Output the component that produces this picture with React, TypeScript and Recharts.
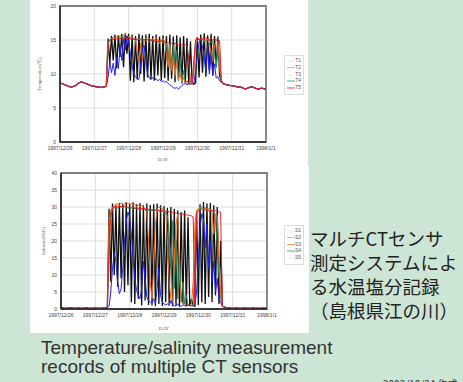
import React from 'react';
import { LineChart, Line, XAxis, YAxis, CartesianGrid, ReferenceArea } from 'recharts';

// x axis: sample index, 20 samples per day
const dayTicks = [0, 20, 40, 60, 80, 100, 120];
const dayLabels = ['1997/12/26', '1997/12/27', '1997/12/28', '1997/12/29', '1997/12/30', '1997/12/31', '1998/1/1'];
const tempTicks = [0, 5, 10, 15, 20];
const salTicks = [0, 5, 10, 15, 20, 25, 30, 35, 40];

const tempNames = ['T1', 'T2', 'T3', 'T4', 'T5'];
const salNames = ['S1', 'S2', 'S3', 'S4', 'S5'];
const colors = ['#111111', '#2222ee', '#f2691e', '#2a8a5c', '#e82020'];
const drawOrder = [0, 3, 2, 1, 4];

// temperature (deg C)
const tempStart = [8.7, 8.6, 8.5, 8.4, 8.3, 8.2, 8.1, 8.1, 8.2, 8.3, 8.5, 8.7, 8.8, 8.8, 8.7, 8.6, 8.5, 8.4, 8.3, 8.2, 8.2, 8.1, 8.1, 8.1, 8.0, 8.1, 8.1, 8.2];
const tempEnd = [8.6, 8.5, 8.4, 8.4, 8.3, 8.3, 8.2, 8.2, 8.1, 8.1, 8.1, 8.0, 7.9, 7.8, 7.9, 8.0, 8.1, 8.1, 8.0, 7.9, 7.8, 7.8, 7.9, 7.9, 7.8, 7.8];
const t1Mid = [
  15.2, 11.5, 15.6, 12.0, 15.8, 10.8, 15.7, 12.5, 15.9, 11.0, 16.0, 13.0,
  15.9, 9.0, 15.8, 8.8, 15.6, 9.2, 15.9, 10.0, 15.7, 8.9, 15.8, 9.5, 15.9,
  9.2, 15.6, 9.0, 15.8, 9.8, 15.5, 9.1, 15.7,
  9.4, 15.6, 9.0, 15.8, 9.3, 15.5, 8.8, 15.7, 9.2, 15.4, 8.6, 15.6, 8.7, 15.3, 8.5,
  14.8, 8.6, 8.5, 8.7, 15.4,
  9.5, 15.8, 10.2, 16.0, 9.6, 15.7, 10.5, 15.9, 9.8, 15.6, 11.0, 15.5, 9.7, 9.0,
];
const t2Mid = [
  9.5, 11.8, 10.2, 11.6, 9.8, 12.5, 10.8, 14.0, 12.0, 15.2, 13.5, 15.6,
  14.8, 13.0, 11.2, 10.0, 9.6, 9.3, 9.2, 11.5, 13.8, 14.2, 12.0, 10.0, 9.4,
  9.2, 9.5, 9.1, 9.3, 9.0, 9.2, 8.9, 9.0,
  8.8, 8.9, 8.6, 8.4, 8.2, 8.0, 7.9, 8.0, 7.8, 8.0, 8.3, 8.5, 8.6, 8.4, 8.6,
  8.5, 8.7, 8.6, 10.5, 13.0,
  14.6, 15.2, 14.0, 12.5, 10.2, 14.2, 10.0, 12.8, 9.8, 11.5, 9.4, 9.6, 9.0, 8.8,
];
const t3Mid = [
  14.5, 15.0, 15.2, 15.0, 15.4, 15.5, 15.6, 15.3, 15.5, 15.7, 15.8, 15.6,
  15.5, 15.4, 15.3, 15.2, 15.0, 13.0, 11.8, 14.5, 12.0, 15.0, 15.3, 15.4, 15.2,
  15.0, 15.2, 14.8, 15.3, 15.1, 14.5, 15.0, 15.2,
  14.8, 13.0, 11.0, 14.2, 10.5, 12.5, 9.8, 11.8, 9.2, 10.0, 8.8, 9.5, 8.6, 8.7, 8.5,
  8.6, 8.5, 10.0, 14.5, 15.0,
  15.2, 15.0, 15.3, 14.8, 15.0, 15.1, 14.6, 13.0, 11.8, 14.2, 15.0, 14.8, 12.0, 9.0,
];
const t4Mid = [
  14.8, 15.0, 15.2, 15.4, 15.3, 15.5, 15.4, 15.6, 15.5, 15.4, 15.5, 15.3,
  15.4, 15.2, 15.3, 15.1, 15.2, 15.0, 15.1, 15.2, 15.0, 15.1, 14.9, 15.0, 14.8,
  14.9, 15.0, 14.8, 14.9, 14.7, 14.9, 14.8, 14.6,
  14.8, 14.5, 12.0, 14.6, 10.5, 14.2, 9.5, 13.5, 9.0, 12.0, 8.8, 10.5, 8.7, 9.0, 8.6,
  8.5, 8.7, 12.0, 15.0, 15.2,
  15.0, 15.1, 14.9, 15.0, 14.8, 14.9, 15.0, 14.6, 14.8, 13.0, 11.0, 14.5, 10.5, 9.0,
];
const t5Mid = [
  14.6, 15.0, 15.2, 15.1, 15.3, 15.2, 15.3, 15.2, 15.3, 15.4, 15.3, 15.2,
  15.3, 15.2, 15.2, 15.1, 15.2, 15.1, 15.1, 15.0, 15.1, 15.0, 15.0, 15.1, 15.0,
  15.0, 14.9, 15.0, 14.9, 14.8, 14.9, 14.8, 14.8,
  14.7, 14.7, 14.6, 14.5, 14.5, 14.4, 14.5, 14.4, 14.3, 14.4, 14.3, 14.2, 14.3, 14.2, 12.0,
  8.8, 8.6, 11.5, 15.0, 15.4,
  15.0, 15.2, 15.1, 15.2, 15.3, 15.2, 15.1, 15.2, 15.0, 15.1, 15.0, 15.1, 14.9, 9.0,
];

// salinity (PSU)
const salStart = [0.3, 0.3, 0.2, 0.2, 0.2, 0.3, 0.3, 0.2, 0.2, 0.2, 0.3, 0.2, 0.2, 0.2, 0.3, 0.3, 0.2, 0.2, 0.2, 0.2, 0.3, 0.2, 0.2, 0.2, 0.2, 0.3, 0.3, 0.5];
const salEnd = [0.6, 0.4, 0.3, 0.3, 0.2, 0.2, 0.2, 0.3, 0.2, 0.2, 0.2, 0.2, 0.3, 0.2, 0.2, 0.2, 0.2, 0.3, 0.2, 0.2, 0.2, 0.2, 0.2, 0.3, 0.2, 0.2];
const s1Mid = [
  29.5, 8.0, 31.0, 10.0, 30.5, 6.5, 31.2, 9.0, 30.8, 5.0, 31.5, 7.0,
  31.0, 2.0, 31.4, 1.5, 30.8, 3.0, 31.2, 1.0, 30.5, 2.5, 31.0, 1.2, 30.6,
  1.0, 30.8, 0.8, 31.0, 1.5, 30.5, 0.9, 30.2,
  2.0, 29.8, 1.2, 30.0, 0.8, 29.5, 1.0, 29.0, 0.7, 28.5, 1.5, 29.0, 0.8, 27.0, 1.0,
  3.0, 1.0, 0.8, 28.5, 1.2,
  30.8, 2.0, 31.5, 1.5, 31.0, 3.5, 31.2, 2.0, 30.5, 4.0, 30.0, 1.5, 20.0, 0.8,
];
const s2Mid = [
  0.8, 5.0, 12.0, 16.5, 14.0, 8.0, 4.5, 6.0, 12.0, 20.0, 26.0, 28.5,
  27.0, 22.0, 15.0, 9.0, 5.5, 4.0, 3.0, 6.0, 14.0, 9.0, 3.5, 2.5, 2.0,
  1.8, 3.0, 1.5, 6.0, 12.0, 4.0, 2.0, 1.5,
  1.2, 1.5, 1.0, 2.5, 1.2, 1.0, 0.9, 1.5, 1.0, 0.8, 1.2, 1.0, 0.9, 1.1, 1.0,
  0.9, 1.0, 1.2, 5.0, 15.0,
  24.0, 28.0, 26.5, 18.0, 25.0, 12.0, 20.0, 8.0, 14.0, 5.0, 9.0, 3.0, 2.0, 1.0,
];
const s3Mid = [
  26.0, 29.0, 30.0, 30.5, 30.8, 31.0, 30.6, 31.2, 31.0, 30.8, 31.3, 31.0,
  30.8, 31.0, 30.5, 30.7, 30.2, 30.5, 30.0, 30.4, 30.0, 29.5, 28.0, 20.0, 8.0,
  3.0, 12.0, 25.0, 29.5, 30.0, 29.8, 29.5, 29.0,
  28.5, 20.0, 8.0, 3.0, 2.0, 15.0, 25.0, 28.0, 10.0, 2.5, 1.5, 1.2, 1.0, 1.2, 1.0,
  1.5, 8.0, 25.0, 29.0, 29.5,
  29.8, 30.0, 29.5, 29.8, 29.5, 29.0, 29.2, 28.5, 22.0, 28.0, 27.5, 15.0, 5.0, 0.8,
];
const s4Mid = [
  24.0, 28.5, 29.5, 29.8, 30.0, 29.6, 30.2, 30.0, 29.8, 30.1, 30.0, 29.7,
  29.8, 29.6, 29.9, 29.5, 29.7, 29.4, 29.6, 29.3, 29.5, 29.2, 29.4, 29.0, 29.2,
  29.0, 28.8, 29.1, 28.7, 29.0, 28.5, 28.8, 28.4,
  28.6, 27.5, 22.0, 12.0, 26.0, 6.0, 20.0, 3.0, 14.0, 2.0, 8.0, 1.5, 4.0, 1.2, 1.0,
  1.0, 1.5, 15.0, 28.5, 29.0,
  29.5, 29.8, 29.4, 29.6, 29.3, 29.5, 29.2, 29.0, 28.5, 26.0, 18.0, 10.0, 3.0, 0.8,
];
const s5Mid = [
  18.0, 27.0, 29.5, 30.0, 30.2, 30.0, 30.3, 30.1, 30.0, 30.2, 30.0, 29.9,
  30.0, 29.8, 29.9, 29.7, 29.8, 29.6, 29.7, 29.5, 29.6, 29.4, 29.5, 29.3, 29.4,
  29.2, 29.3, 29.1, 29.2, 29.0, 28.9, 29.0, 28.8,
  28.8, 28.7, 28.6, 28.5, 28.4, 28.3, 28.2, 28.1, 28.0, 28.0, 27.9, 27.8, 27.7, 27.6, 27.5,
  27.4, 27.0, 1.0, 28.0, 29.0,
  29.2, 29.4, 29.3, 29.2, 29.1, 29.0, 29.1, 28.9, 28.8, 28.9, 28.7, 28.6, 28.5, 1.0,
];

const tempSeries = [t1Mid, t2Mid, t3Mid, t4Mid, t5Mid].map((m) => [...tempStart, ...m, ...tempEnd]);
const salSeries = [s1Mid, s2Mid, s3Mid, s4Mid, s5Mid].map((m) => [...salStart, ...m, ...salEnd]);

const buildRows = (series: number[][]) =>
  series[0].map((_, i) => {
    const row: Record<string, number> = { i };
    series.forEach((s, k) => {
      row['v' + k] = s[i];
    });
    return row;
  });

const tempData = buildRows(tempSeries);
const salData = buildRows(salSeries);

const tickStyle = { fontSize: 5, fill: '#444', fontFamily: 'Liberation Sans' };

const legendSwatch = {
  T: ['#f4f4f4', '#b4b6f0', '#f4f4f4', '#a6d8bf', '#f2a4a4'],
  S: ['#f4f4f4', '#b8baf2', '#f59a66', '#a6d8bf', '#f4f4f4'],
};

const SmallLegend = ({ names, swatches, left, top }: { names: string[]; swatches: string[]; left: number; top: number }) => (
  <div
    style={{
      position: 'absolute', left, top, width: 18, height: 36, border: '1px solid #ddd', background: '#fff',
      fontFamily: 'Liberation Sans', fontSize: 5, color: '#555', padding: '1px 0',
    }}
  >
    {names.map((n, k) => (
      <div key={n} style={{ position: 'relative', height: 6.8 }}>
        <div style={{ position: 'absolute', left: 2, top: 3, width: 8, height: 1.5, background: swatches[k] }} />
        <div style={{ position: 'absolute', right: 2, top: 0, lineHeight: '6.8px' }}>{n}</div>
      </div>
    ))}
  </div>
);

const Panel = ({ data, ticks, yMax, yLabel, width, height, top, yWidth, labelOffset, dayOffset }: any) => (
  <LineChart width={width} height={height} data={data} margin={{ top, right: 42, bottom: 0, left: 0 }}>
    <CartesianGrid stroke="#d4d4d4" strokeWidth={0.8} />
    <XAxis
      dataKey="i"
      type="number"
      domain={[0, 120]}
      ticks={dayTicks}
      tickFormatter={(v: number) => dayLabels[dayTicks.indexOf(v)]}
      tick={tickStyle}
      tickLine={false}
      tickSize={3}
      tickMargin={1}
      height={24}
      axisLine={{ stroke: '#222', strokeWidth: 1.5 }}
      interval={0}
      label={{ value: 'DAY', position: 'insideBottom', offset: dayOffset, fontSize: 5, fill: '#555' }}
    />
    <YAxis
      type="number"
      domain={[0, yMax]}
      ticks={ticks}
      tick={tickStyle}
      tickLine={false}
      tickSize={2}
      tickMargin={2}
      width={yWidth}
      interval={0}
      axisLine={{ stroke: '#222', strokeWidth: 1.5 }}
      label={{ value: yLabel, angle: -90, position: 'insideLeft', offset: labelOffset, fontSize: 5, fill: '#555', style: { textAnchor: 'middle' } }}
    />
    <ReferenceArea x1={0} x2={120} y1={0} y2={yMax} fill="none" stroke="#808080" strokeWidth={1.8} />
    {drawOrder.map((k) => (
      <Line
        key={k}
        dataKey={'v' + k}
        type="linear"
        stroke={colors[k]}
        strokeWidth={k === 0 ? 1.3 : 1}
        dot={false}
        isAnimationActive={false}
      />
    ))}
  </LineChart>
);

export default function App() {
  return (
    <div style={{ position: 'absolute', left: 0, top: 0, width: 463, height: 382, overflow: 'hidden', background: '#cde5d5' }}>
      <div style={{ position: 'absolute', left: 30, top: 0, width: 278, height: 166, background: '#fff' }}>
        <Panel data={tempData} ticks={tempTicks} yMax={20} yLabel="Temperature(℃)" width={278} height={166} top={6} yWidth={30} labelOffset={9} dayOffset={5} />
      </div>
      <div style={{ position: 'absolute', left: 30, top: 166, width: 279, height: 167, background: '#fff' }}>
        <Panel data={salData} ticks={salTicks} yMax={40} yLabel="Salinity(PSU)" width={279} height={167} top={7} yWidth={31} labelOffset={13} dayOffset={3.5} />
      </div>
      <SmallLegend names={tempNames} swatches={legendSwatch.T} left={284} top={55} />
      <SmallLegend names={salNames} swatches={legendSwatch.S} left={284} top={225} />
      <div
        style={{
          position: 'absolute', left: 310, top: 226, fontSize: 18.5, lineHeight: '24px', color: '#222',
          fontFamily: '"Noto Sans CJK JP", sans-serif', whiteSpace: 'nowrap',
        }}
      >
        <div>マルチCTセンサ</div>
        <div>測定システムによ</div>
        <div>る水温塩分記録</div>
        <div>（島根県江の川）</div>
      </div>
      <div
        style={{
          position: 'absolute', left: 41, top: 339, fontSize: 19, lineHeight: '18.5px', color: '#333',
          fontFamily: '"Liberation Sans", Arial, sans-serif', whiteSpace: 'nowrap',
        }}
      >
        <div>Temperature/salinity measurement</div>
        <div>records of multiple CT sensors</div>
      </div>
      <div
        style={{
          position: 'absolute', left: 383, top: 376, fontSize: 10, color: '#333',
          fontFamily: '"Noto Sans CJK JP", sans-serif', whiteSpace: 'nowrap',
        }}
      >
        2002/10/24 作成
      </div>
    </div>
  );
}
